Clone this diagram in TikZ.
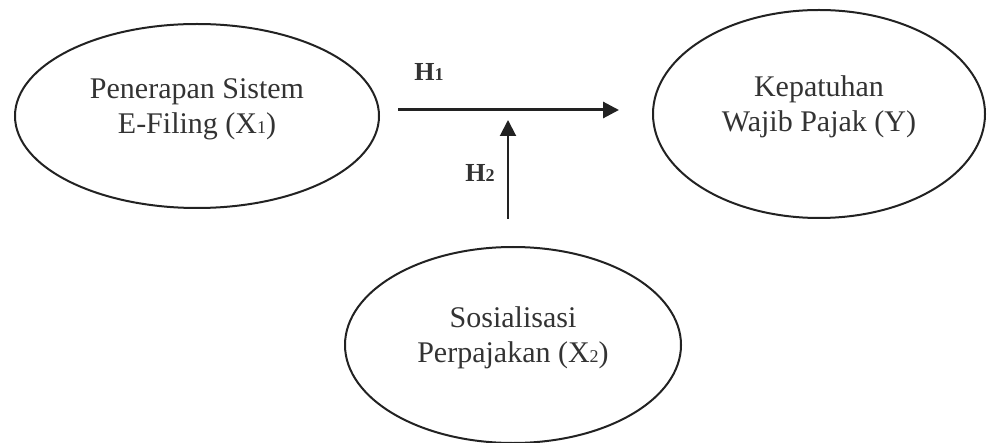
\documentclass[tikz,border=0pt]{standalone}
\usepackage{fontspec}
\setmainfont{Liberation Serif}
\usetikzlibrary{arrows.meta,positioning,shapes.geometric}
\definecolor{ink}{HTML}{333333}
\definecolor{edge}{HTML}{222222}
\newcommand{\sml}[1]{{\fontsize{18}{18}\selectfont #1}}
% text sits a little above the middle of each ellipse
\newcommand{\twoline}[2]{\raisebox{7pt}[\height][\depth]{\begin{tabular}{@{}c@{}}#1\\#2\end{tabular}}}

\begin{document}
\begin{tikzpicture}[
  x=1pt, y=1pt,
  var/.style={ellipse, draw=edge, line width=2pt, inner sep=0pt, text=ink, font=\fontsize{30}{35}\selectfont},
  hyp/.style={text=ink, font=\fontsize{26}{26}\selectfont\bfseries},
  arrow/.style={-{Triangle[length=16pt, width=16pt]}, draw=edge}
]
\useasboundingbox (0,0) rectangle (987,442);
\node[var, minimum width=364pt, minimum height=184pt] (x1) at (197,326) {\twoline{Penerapan Sistem}{E-Filing (X\sml{1})}};
\node[var, minimum width=332pt, minimum height=208pt] (y) at (819,328) {\twoline{Kepatuhan}{Wajib Pajak (Y)}};
\node[var, minimum width=336pt, minimum height=196pt] (x2) at (513,97) {\twoline{Sosialisasi}{Perpajakan (X\sml{2})}};
\coordinate (meet) at (508,332);

\draw[arrow, line width=3pt, shorten <=18pt, shorten >=33pt] ([yshift=6pt]x1.east) -- ([yshift=4pt]y.west);
\draw[arrow, line width=2pt, shorten <=27pt, shorten >=10pt] (x2.north -| meet) -- (meet);
\node[hyp] (h1) at (429,370) {H\sml{1}};
\node[hyp] (h2) at (480,269) {H\sml{2}};
\end{tikzpicture}
\end{document}
